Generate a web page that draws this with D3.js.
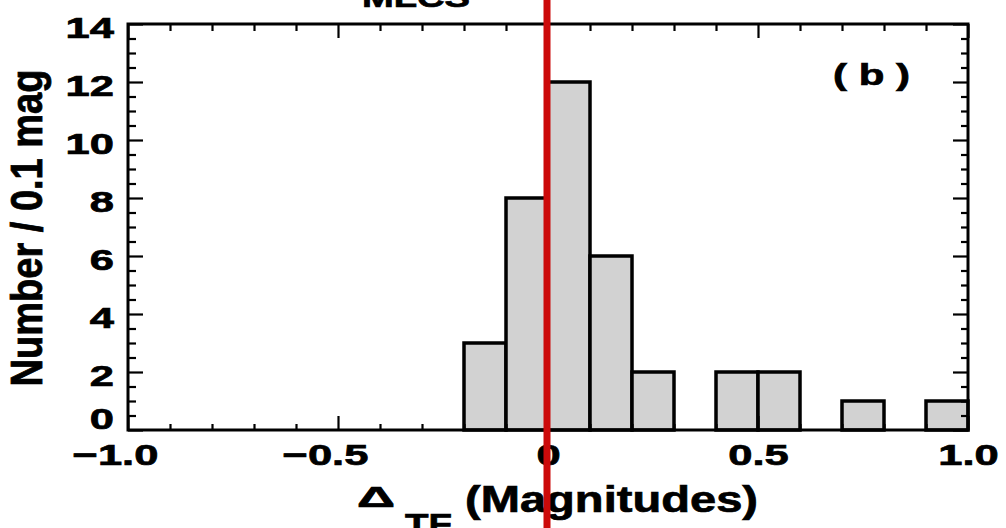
<!DOCTYPE html>
<html>
<head>
<meta charset="utf-8">
<script src="https://cdn.jsdelivr.net/npm/d3@7"></script>
<style>
  html, body { margin: 0; padding: 0; background: #ffffff; }
  svg { display: block; }
  text { font-family: "Liberation Sans", Arial, Helvetica, sans-serif; font-weight: bold; fill: #000; stroke: #000; stroke-width: 0.7px; }
</style>
</head>
<body>
<svg id="chart" width="1006" height="528"></svg>
<script>
// ---- data ----
const binStart = [-0.2, -0.1, 0.0, 0.1, 0.2, 0.4, 0.5, 0.7, 0.9];
const counts   = [3, 8, 12, 6, 2, 2, 2, 1, 1];
const binWidth = 0.1;
const xTicks = [-1.0, -0.5, 0, 0.5, 1.0];
const xTickLabels = ["\u22121.0", "\u22120.5", "0", "0.5", "1.0"];
const xMinorTicks = [-0.9,-0.8,-0.7,-0.6,-0.4,-0.3,-0.2,-0.1,0.1,0.2,0.3,0.4,0.6,0.7,0.8,0.9];
const yTicks = [0, 2, 4, 6, 8, 10, 12, 14];
const yMinorTicks = [0.5,1,1.5,2.5,3,3.5,4.5,5,5.5,6.5,7,7.5,8.5,9,9.5,10.5,11,11.5,12.5,13,13.5];
const refLine = 0;
const title = "MLCS";
const panelLabel = "( b )";
const yTitle = "Number / 0.1 mag";

// ---- layout ----
const L = 128, R = 968, T = 24, B = 430;
const svg = d3.select("#chart");
const x = d3.scaleLinear().domain([-1, 1]).range([L, R]);
const y = d3.scaleLinear().domain([0, 14]).range([B, T]);
const SX = 1.45; // horizontal stretch of the lettering

// bars
svg.append("g").selectAll("rect")
  .data(binStart.map((s, i) => ({ s, c: counts[i] })))
  .join("rect")
  .attr("x", d => x(d.s))
  .attr("y", d => y(d.c))
  .attr("width", d => x(d.s + binWidth) - x(d.s))
  .attr("height", d => y(0) - y(d.c))
  .attr("fill", "#d2d2d2")
  .attr("stroke", "#000")
  .attr("stroke-width", 3.5);

// axes (ticks pointing inward)
function styleAxis(g) {
  g.select(".domain").remove();
  g.selectAll("line").attr("stroke", "#000").attr("stroke-width", 2.2);
}
// bottom
svg.append("g").attr("transform", `translate(0,${B})`)
  .call(d3.axisBottom(x).tickValues(xTicks).tickSize(-14).tickPadding(14)
        .tickFormat((d, i) => xTickLabels[i]))
  .call(styleAxis)
  .call(g => g.selectAll("text")
      .attr("font-size", 30).attr("font-family", null)
      .attr("transform", `scale(${SX},1)`)
      .attr("dx", d => d < 0 ? -9 : 0));
svg.append("g").attr("transform", `translate(0,${B})`)
  .call(d3.axisBottom(x).tickValues(xMinorTicks).tickSize(-6).tickFormat(""))
  .call(styleAxis);
// top
svg.append("g").attr("transform", `translate(0,${T})`)
  .call(d3.axisTop(x).tickValues(xTicks).tickSize(-14).tickFormat(""))
  .call(styleAxis);
svg.append("g").attr("transform", `translate(0,${T})`)
  .call(d3.axisTop(x).tickValues(xMinorTicks).tickSize(-7).tickFormat(""))
  .call(styleAxis);
// left
svg.append("g").attr("transform", `translate(${L},0)`)
  .call(d3.axisLeft(y).tickValues(yTicks).tickSize(-15).tickPadding(9.7))
  .call(styleAxis)
  .call(g => g.selectAll("text")
      .attr("font-size", 30).attr("font-family", null)
      .attr("transform", `scale(${SX},1)`)
      .attr("dy", d => d === 0 ? "-0.05em" : "0.45em"));
svg.append("g").attr("transform", `translate(${L},0)`)
  .call(d3.axisLeft(y).tickValues(yMinorTicks).tickSize(-8).tickFormat(""))
  .call(styleAxis);
// right
svg.append("g").attr("transform", `translate(${R},0)`)
  .call(d3.axisRight(y).tickValues(yTicks).tickSize(-15).tickFormat(""))
  .call(styleAxis);
svg.append("g").attr("transform", `translate(${R},0)`)
  .call(d3.axisRight(y).tickValues(yMinorTicks).tickSize(-7).tickFormat(""))
  .call(styleAxis);

// frame
svg.append("rect")
  .attr("x", L).attr("y", T).attr("width", R - L).attr("height", B - T)
  .attr("fill", "none").attr("stroke", "#000").attr("stroke-width", 3);

// title (cut off at the top, as in the reference)
svg.append("text").attr("x", 362).attr("y", 7)
  .attr("font-size", 28).attr("textLength", 108).attr("lengthAdjust", "spacingAndGlyphs")
  .text(title);

// panel label
svg.append("text").attr("x", 833).attr("y", 85)
  .attr("font-size", 30).attr("textLength", 77).attr("lengthAdjust", "spacingAndGlyphs")
  .text(panelLabel);

// y title
svg.append("g").attr("transform", "translate(42,228) rotate(-90) scale(1,1.18)")
  .append("text").attr("text-anchor", "middle")
  .attr("font-size", 38).attr("textLength", 317).attr("lengthAdjust", "spacingAndGlyphs")
  .text(yTitle);

// x title: Δ_TF (Magnitudes)
svg.append("text").attr("x", 357).attr("y", 507)
  .attr("font-size", 30).attr("font-weight", "normal")
  .attr("textLength", 38).attr("lengthAdjust", "spacingAndGlyphs")
  .text("\u0394");
svg.append("text").attr("x", 405).attr("y", 534)
  .attr("font-size", 30).attr("textLength", 47).attr("lengthAdjust", "spacingAndGlyphs")
  .text("TF");
svg.append("text").attr("x", 465).attr("y", 512)
  .attr("font-size", 37).attr("textLength", 293).attr("lengthAdjust", "spacingAndGlyphs")
  .text("(Magnitudes)");

// red reference line
svg.append("line")
  .attr("x1", x(refLine) - 1).attr("x2", x(refLine) - 1)
  .attr("y1", 0).attr("y2", 528)
  .attr("stroke", "#cc0a0a").attr("stroke-width", 7);
</script>
</body>
</html>
